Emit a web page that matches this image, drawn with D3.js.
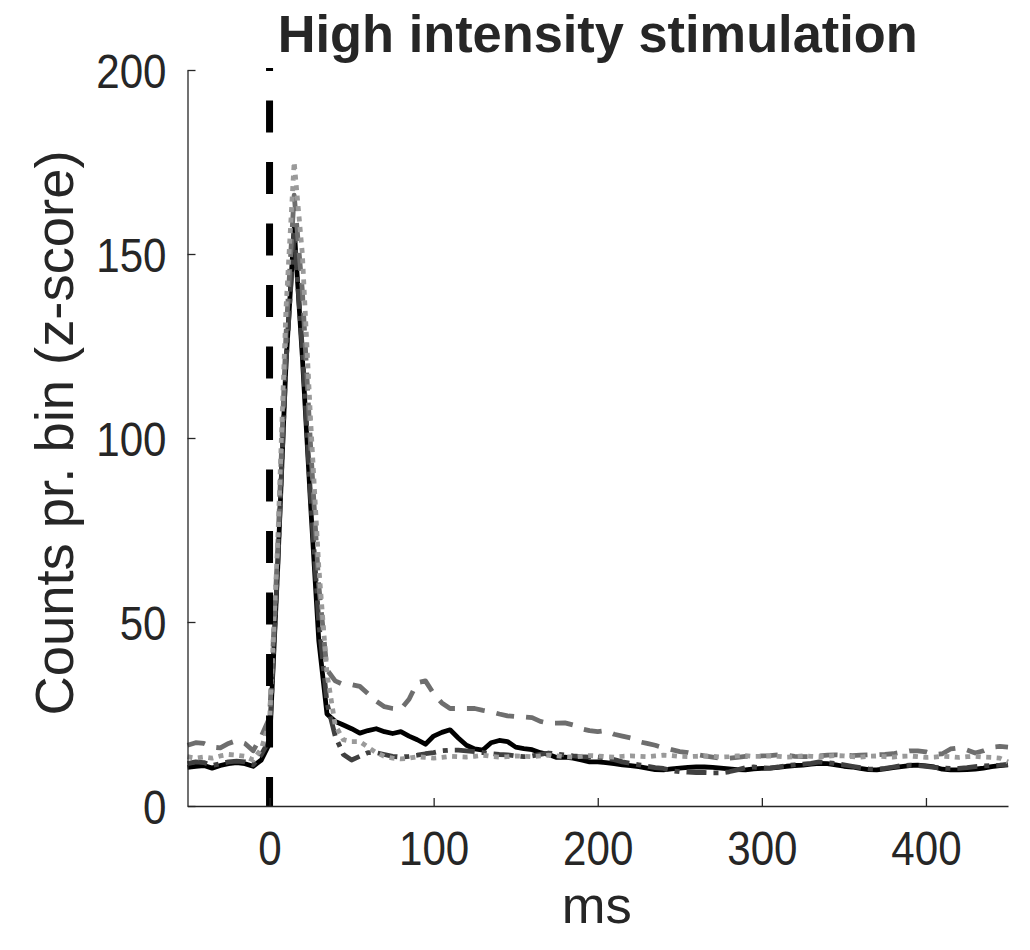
<!DOCTYPE html>
<html>
<head>
<meta charset="utf-8">
<script src="https://cdn.jsdelivr.net/npm/d3@7"></script>
<style>
html,body{margin:0;padding:0;background:#fff;}
svg{display:block;}
text{font-family:"Liberation Sans",Arial,Helvetica,sans-serif;fill:#262626;}
</style>
</head>
<body>
<svg id="chart" width="1030" height="950"></svg>
<script>
// ---- data ----
const titleText = "High intensity stimulation";
const xLabel = "ms";
const yLabel = "Counts pr. bin (z-score)";
const xTicks = [0, 100, 200, 300, 400];
const yTicks = [0, 50, 100, 150, 200];
const xDomain = [-50, 450];
const yDomain = [0, 200];
const stimTime = 0;

// time bins (ms)
const timeBins = d3.range(-50, 451, 5);

const solidBlack = [
 10.5,10.8,11,10.3,11,11.5,11.8,11.5,10.8,12.5,17,
 65,120,157,122,82,45,25,23,22,21,
 19.8,20.5,21,20.2,19.7,20.2,19,18,16.8,19,
 20,20.7,18.5,16.5,15.5,15.2,17.2,17.8,17.5,16,
 15.6,15.3,14.5,14,13.2,13.3,13,12.5,12,12,
 11.8,11.5,11.2,11,10.7,10.3,9.9,9.8,10.1,10.3,
 10.5,10.6,10.6,10.5,10.3,10.1,9.9,9.8,10.1,10.2,
 10.3,10.5,10.8,11,11.1,11.4,11.6,11.5,11.2,10.8,
 10.6,10.2,9.9,9.8,10.1,10.4,10.7,11,11.1,10.9,
 10.6,10,9.8,9.8,9.9,10,10.3,10.7,11,11.2
];

const dashDotDark = [
 11.5,12,11.8,11,11.5,12,12.2,12,11.2,14,18,
 66,120,156,124,84,50,28,19,14,12.5,
 13.5,14.5,14.5,14,13.5,13.3,13.5,13.8,14.2,14.5,
 15,15.2,15.2,15,14.8,14.5,14.2,14,13.9,13.6,
 13.4,13.6,14,14.4,14.1,13.9,13.6,13.4,13.3,13.3,
 13,12.6,12,11.6,11.2,10.8,10.4,10.2,9.6,9.3,
 9.2,9.1,9.1,9,9,9.3,9.8,10.4,10.6,10.4,
 10.3,10.6,11,11.2,11.4,11.6,12,11.8,11.5,11.2,
 10.8,10.4,10.1,10,10.2,10.6,11,11.1,11,10.8,
 10.5,10.3,10.2,10.2,10.4,10.7,10.9,11,11.1,11.3
];

const dashedMid = [
 16.5,17.2,17,16,15.8,17,17.8,17,15,19,24,
 70,128,166,140,98,60,37,34,33,33,
 32.5,30.5,28.5,27,26.5,26.3,29,33.5,34,30.5,
 28,26.5,26.5,26.5,26.5,26,25.6,25,24.5,24.3,
 24.2,24,23,22.5,22.5,22.6,22,21,20.5,20.2,
 20.5,19.5,19,18.5,17.5,17,16.5,15.8,15.3,14.8,
 14.5,14,13.6,13.3,13,13,13.2,13.5,13.5,13.6,
 13.7,13.9,13.8,13.5,13.4,13.4,13.6,13.8,13.9,13.8,
 13.7,13.8,13.9,13.9,14,14.2,14.6,15,15,14.7,
 14,14.2,15.5,15.8,15.2,14.4,15,16,16.2,16
];

const dottedLight = [
 13.4,13,13.3,13,13.6,14,13.8,13.5,12.5,15.5,23,
 72,135,175,150,105,65,36,22,18,17.5,
 17.5,16,14.5,13.5,13,12.8,13,13.4,13.2,13,
 13.2,13.5,13.4,13.3,13.5,13.8,13.5,13.3,13.4,13.6,
 13.5,13.4,13.6,13.8,13.6,13.4,13.3,13.5,13.7,13.6,
 13.4,13.3,13.5,13.6,13.5,13.4,13.6,13.8,13.7,13.5,
 13.4,13.5,13.6,13.5,13.3,13.4,13.6,13.7,13.5,13.5,
 13.6,13.5,13.3,13.4,13.6,13.5,13.4,13.5,13.7,13.6,
 13.4,13.3,13.5,13.6,13.4,13.3,13.5,13.6,13.4,13.2,
 13.3,13.5,13.4,13.2,13.4,13.5,13.3,13.2,13,12
];

// ---- layout ----
const svg = d3.select("#chart");
const L = 187.5, R = 1008, T = 70, B = 806;
const x = d3.scaleLinear().domain(xDomain).range([L, R]);
const y = d3.scaleLinear().domain(yDomain).range([B, T]);
const axisColor = "#262626";
const tickFs = 49;

const line = d3.line().x((d, i) => x(timeBins[i])).y(d => y(d));

const seriesDefs = [
  {data: solidBlack, color: "#000000", width: 4.8, dash: null},
  {data: dashDotDark, color: "#404040", width: 4.8, dash: "20,7,5,7"},
  {data: dashedMid, color: "#6e6e6e", width: 4.8, dash: "18,12"},
  {data: dottedLight, color: "#9a9a9a", width: 4.8, dash: "5,5.5"}
];

const g = svg.append("g");
seriesDefs.forEach(s => {
  g.append("path")
    .datum(s.data)
    .attr("d", line)
    .attr("fill", "none")
    .attr("stroke", s.color)
    .attr("stroke-width", s.width)
    .attr("stroke-linejoin", "round")
    .attr("stroke-dasharray", s.dash);
});

// stimulus onset line
svg.append("line")
  .attr("x1", x(stimTime)).attr("x2", x(stimTime))
  .attr("y1", y(yDomain[1]) - 2).attr("y2", y(yDomain[0]))
  .attr("stroke", "#000").attr("stroke-width", 7)
  .attr("stroke-dasharray", "32,29.5")
  .attr("stroke-dashoffset", 29);

// axes
const xAxis = d3.axisBottom(x).tickValues(xTicks).tickSizeInner(-8).tickSizeOuter(0);
const yAxis = d3.axisLeft(y).tickValues(yTicks).tickSizeInner(-8).tickSizeOuter(0);

const gx = svg.append("g").attr("transform", `translate(0,${B})`).call(xAxis);
const gy = svg.append("g").attr("transform", `translate(${L},0)`).call(yAxis);

[gx, gy].forEach(a => {
  a.select(".domain").attr("stroke", axisColor).attr("stroke-width", 1.3);
  a.selectAll(".tick line").attr("stroke", axisColor).attr("stroke-width", 1.3);
  a.selectAll(".tick text").attr("fill", axisColor)
    .style("font-family", '"Liberation Sans", Arial, sans-serif')
    .style("font-size", tickFs + "px")
    .attr("textLength", function() { return this.textContent.length * 0.556 * tickFs * 0.86; })
    .attr("lengthAdjust", "spacingAndGlyphs");
});
gx.selectAll(".tick text").attr("dy", "0.71em").attr("y", 24);
gy.selectAll(".tick text").attr("x", -21).attr("dy", "0.36em");

// title
svg.append("text")
  .attr("x", (L + R) / 2).attr("y", 52)
  .attr("text-anchor", "middle")
  .style("font-size", "51px").style("font-weight", "bold")
  .attr("fill", "#000")
  .attr("textLength", 640).attr("lengthAdjust", "spacingAndGlyphs")
  .text(titleText);

// x label
svg.append("text")
  .attr("x", (L + R) / 2 - 1).attr("y", 923)
  .attr("text-anchor", "middle")
  .style("font-size", "52px")
  .attr("textLength", 70).attr("lengthAdjust", "spacingAndGlyphs")
  .text(xLabel);

// y label
svg.append("text")
  .attr("transform", `translate(73,${(T + B) / 2 - 5}) rotate(-90)`)
  .attr("text-anchor", "middle")
  .style("font-size", "53px")
  .attr("textLength", 565).attr("lengthAdjust", "spacingAndGlyphs")
  .text(yLabel);
</script>
</body>
</html>
